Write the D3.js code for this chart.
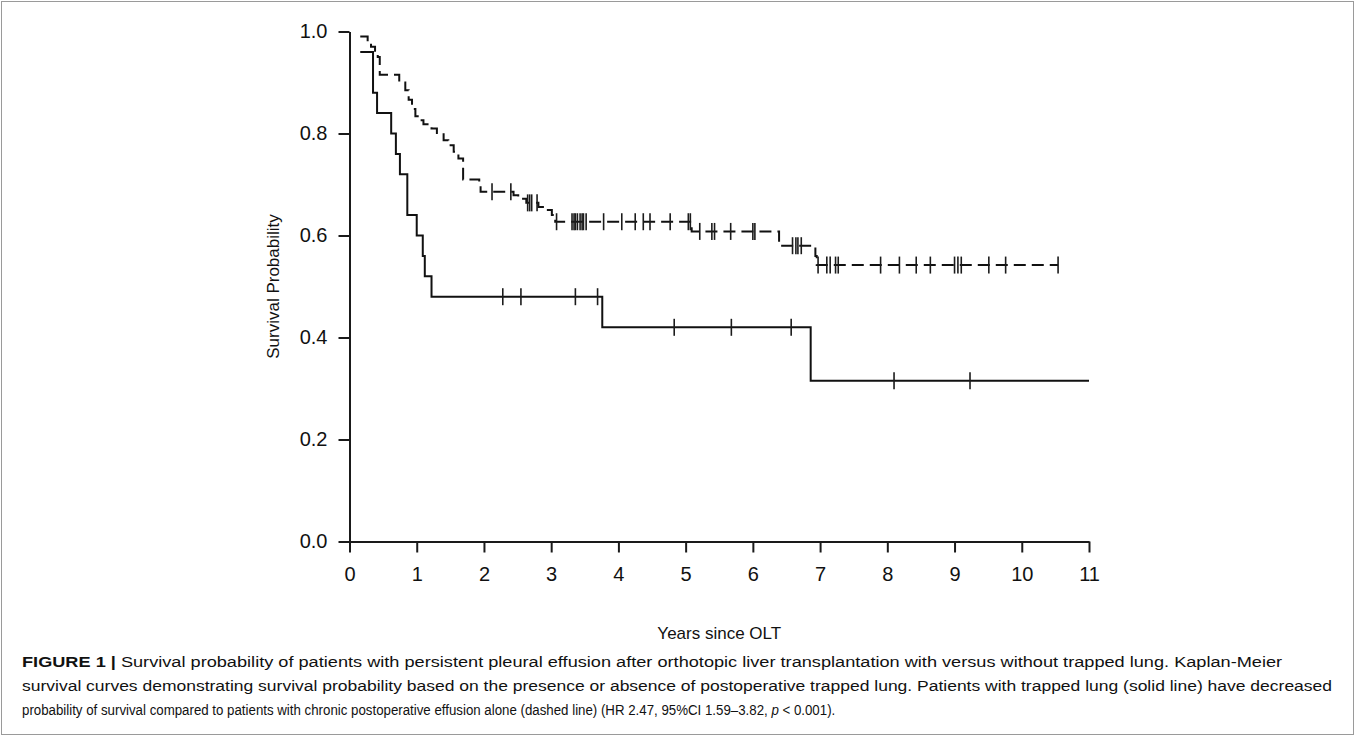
<!DOCTYPE html>
<html>
<head>
<meta charset="utf-8">
<script src="https://cdn.jsdelivr.net/npm/d3@7.9.0/dist/d3.min.js"></script>
<style>
  html, body { margin: 0; padding: 0; background: #fff; }
  svg { display: block; }
  text { font-family: 'Liberation Sans', Arial, sans-serif; fill: #111; }
</style>
</head>
<body>
<svg id="chart" width="1355" height="736"></svg>
<script>
// Kaplan-Meier steps (years, survival after the event)
const trappedTimes = [0.16, 0.35, 0.41, 0.62, 0.69, 0.75, 0.86, 1.0, 1.09, 1.12, 1.22, 3.76, 6.86];
const trappedSurv = [0.96, 0.88, 0.84, 0.80, 0.76, 0.72, 0.64, 0.60, 0.56, 0.52, 0.48, 0.42, 0.315];
const trappedCensor = [2.28, 2.55, 3.36, 3.69, 4.83, 5.68, 6.57, 8.10, 9.23];
const trappedEnd = 11;

const effusionTimes = [0.16, 0.27, 0.32, 0.38, 0.42, 0.45, 0.74, 0.83, 0.88, 0.93, 0.98, 1.03, 1.10,
  1.22, 1.30, 1.40, 1.47, 1.55, 1.62, 1.69, 1.93, 1.95, 2.44, 2.51, 2.63, 2.81, 2.91, 3.01, 3.06,
  5.09, 6.39, 6.93, 6.95];
const effusionSurv = [0.99, 0.98, 0.97, 0.96, 0.95, 0.915, 0.90, 0.885, 0.866, 0.848, 0.834, 0.826, 0.818,
  0.81, 0.801, 0.787, 0.777, 0.764, 0.751, 0.71, 0.699, 0.686, 0.679, 0.672, 0.664, 0.656, 0.65, 0.64, 0.627,
  0.608, 0.58, 0.56, 0.542];
const effusionCensor = [2.12, 2.40, 2.65, 2.68, 2.71, 2.79, 3.08, 3.31, 3.34, 3.36, 3.39, 3.43, 3.46, 3.48,
  3.52, 3.78, 4.05, 4.25, 4.37, 4.47, 4.77, 5.04, 5.07, 5.21, 5.39, 5.43, 5.67, 6.00, 6.03, 6.59, 6.64,
  6.67, 6.72, 6.97, 7.10, 7.15, 7.23, 7.27, 7.90, 8.18, 8.43, 8.64, 9.00, 9.05, 9.10, 9.51, 9.76, 10.54];
const effusionEnd = 10.54;

const xTicks = [0, 1, 2, 3, 4, 5, 6, 7, 8, 9, 10, 11];
const yTicks = [0, 0.2, 0.4, 0.6, 0.8, 1.0];

const xTitle = 'Years since OLT';
const yTitle = 'Survival Probability';

const captionLines = [
  [['FIGURE 1 | ', 'bold'], ['Survival probability of patients with persistent pleural effusion after orthotopic liver transplantation with versus without trapped lung. Kaplan-Meier', '']],
  [['survival curves demonstrating survival probability based on the presence or absence of postoperative trapped lung. Patients with trapped lung (solid line) have decreased', '']],
  [['probability of survival compared to patients with chronic postoperative effusion alone (dashed line) (HR 2.47, 95%CI 1.59\u20133.82, ', ''], ['p', 'italic'], [' < 0.001).', '']],
];
// right edge of each caption line in the reference
const captionRight = [1283, 1333, 836];

const svg = d3.select('#chart');
const width = 1355;
const height = 736;

svg.append('rect')
  .attr('x', 1.5).attr('y', 1.5)
  .attr('width', width - 3).attr('height', height - 3)
  .attr('fill', 'none')
  .attr('stroke', '#9a9a9a')
  .attr('stroke-width', 1);

const xScale = d3.scaleLinear().domain([0, 11]).range([349.5, 1089]);
const yScale = d3.scaleLinear().domain([0, 1]).range([541.5, 31.5]);

// axes
const xAxis = d3.axisBottom(xScale).tickValues(xTicks).tickSize(11).tickSizeOuter(0).tickPadding(14)
  .tickFormat(d3.format('d'));
const yAxis = d3.axisLeft(yScale).tickValues(yTicks).tickSize(11).tickSizeOuter(0).tickPadding(11)
  .tickFormat(d3.format('.1f'));

const gx = svg.append('g')
  .attr('transform', `translate(0, ${yScale(0)})`)
  .call(xAxis);
const gy = svg.append('g')
  .attr('transform', `translate(${xScale(0)}, 0)`)
  .call(yAxis);

[gx, gy].forEach((g) => {
  g.select('.domain').attr('stroke', '#1a1a1a').attr('stroke-width', 2);
  g.selectAll('.tick line').attr('stroke', '#1a1a1a').attr('stroke-width', 2);
  g.selectAll('.tick text')
    .attr('fill', '#111')
    .style('font-family', "'Liberation Sans', Arial, sans-serif")
    .style('font-size', '20px');
});

svg.append('text')
  .attr('transform', `translate(279, ${(yScale(0) + yScale(1)) / 2}) rotate(-90)`)
  .attr('text-anchor', 'middle')
  .style('font-size', '17px')
  .text(yTitle);

svg.append('text')
  .attr('x', (xScale(0) + xScale(11)) / 2)
  .attr('y', 639)
  .attr('text-anchor', 'middle')
  .style('font-size', '17px')
  .text(xTitle);

// curves
function stepPoints(times, surv, end) {
  const pts = times.map((t, i) => [t, surv[i]]);
  pts.push([end, surv[surv.length - 1]]);
  return pts;
}

function survAt(times, surv, t) {
  const i = d3.bisectRight(times, t) - 1;
  return surv[Math.max(i, 0)];
}

const line = d3.line()
  .x((d) => xScale(d[0]))
  .y((d) => yScale(d[1]))
  .curve(d3.curveStepAfter);

const curves = [
  { times: trappedTimes, surv: trappedSurv, censor: trappedCensor, end: trappedEnd, dash: null },
  { times: effusionTimes, surv: effusionSurv, censor: effusionCensor, end: effusionEnd, dash: '12 6' },
];

curves.forEach((c) => {
  svg.append('path')
    .datum(stepPoints(c.times, c.surv, c.end))
    .attr('d', line)
    .attr('fill', 'none')
    .attr('stroke', '#111')
    .attr('stroke-width', 2)
    .attr('stroke-dasharray', c.dash);

  svg.append('g')
    .selectAll('line')
    .data(c.censor)
    .join('line')
    .attr('x1', (d) => xScale(d))
    .attr('x2', (d) => xScale(d))
    .attr('y1', (d) => yScale(survAt(c.times, c.surv, d)) - 8.5)
    .attr('y2', (d) => yScale(survAt(c.times, c.surv, d)) + 8.5)
    .attr('stroke', '#1b1b1b')
    .attr('stroke-width', 1.6);
});

// caption lines, each fitted to its width in the reference
const left = 22;
const caption = svg.append('g');
captionLines.forEach((parts, i) => {
  const g = caption.append('g');
  const t = g.append('text')
    .attr('x', 0)
    .attr('y', 0)
    .style('font-size', '15.5px');
  parts.forEach(([s, style]) => {
    t.append('tspan')
      .attr('font-weight', style === 'bold' ? 700 : null)
      .attr('font-style', style === 'italic' ? 'italic' : null)
      .text(s);
  });
  const sx = (captionRight[i] - left) / t.node().getComputedTextLength();
  g.attr('transform', `translate(${left}, ${667 + i * 24}) scale(${sx}, 1)`);
});
</script>
</body>
</html>
